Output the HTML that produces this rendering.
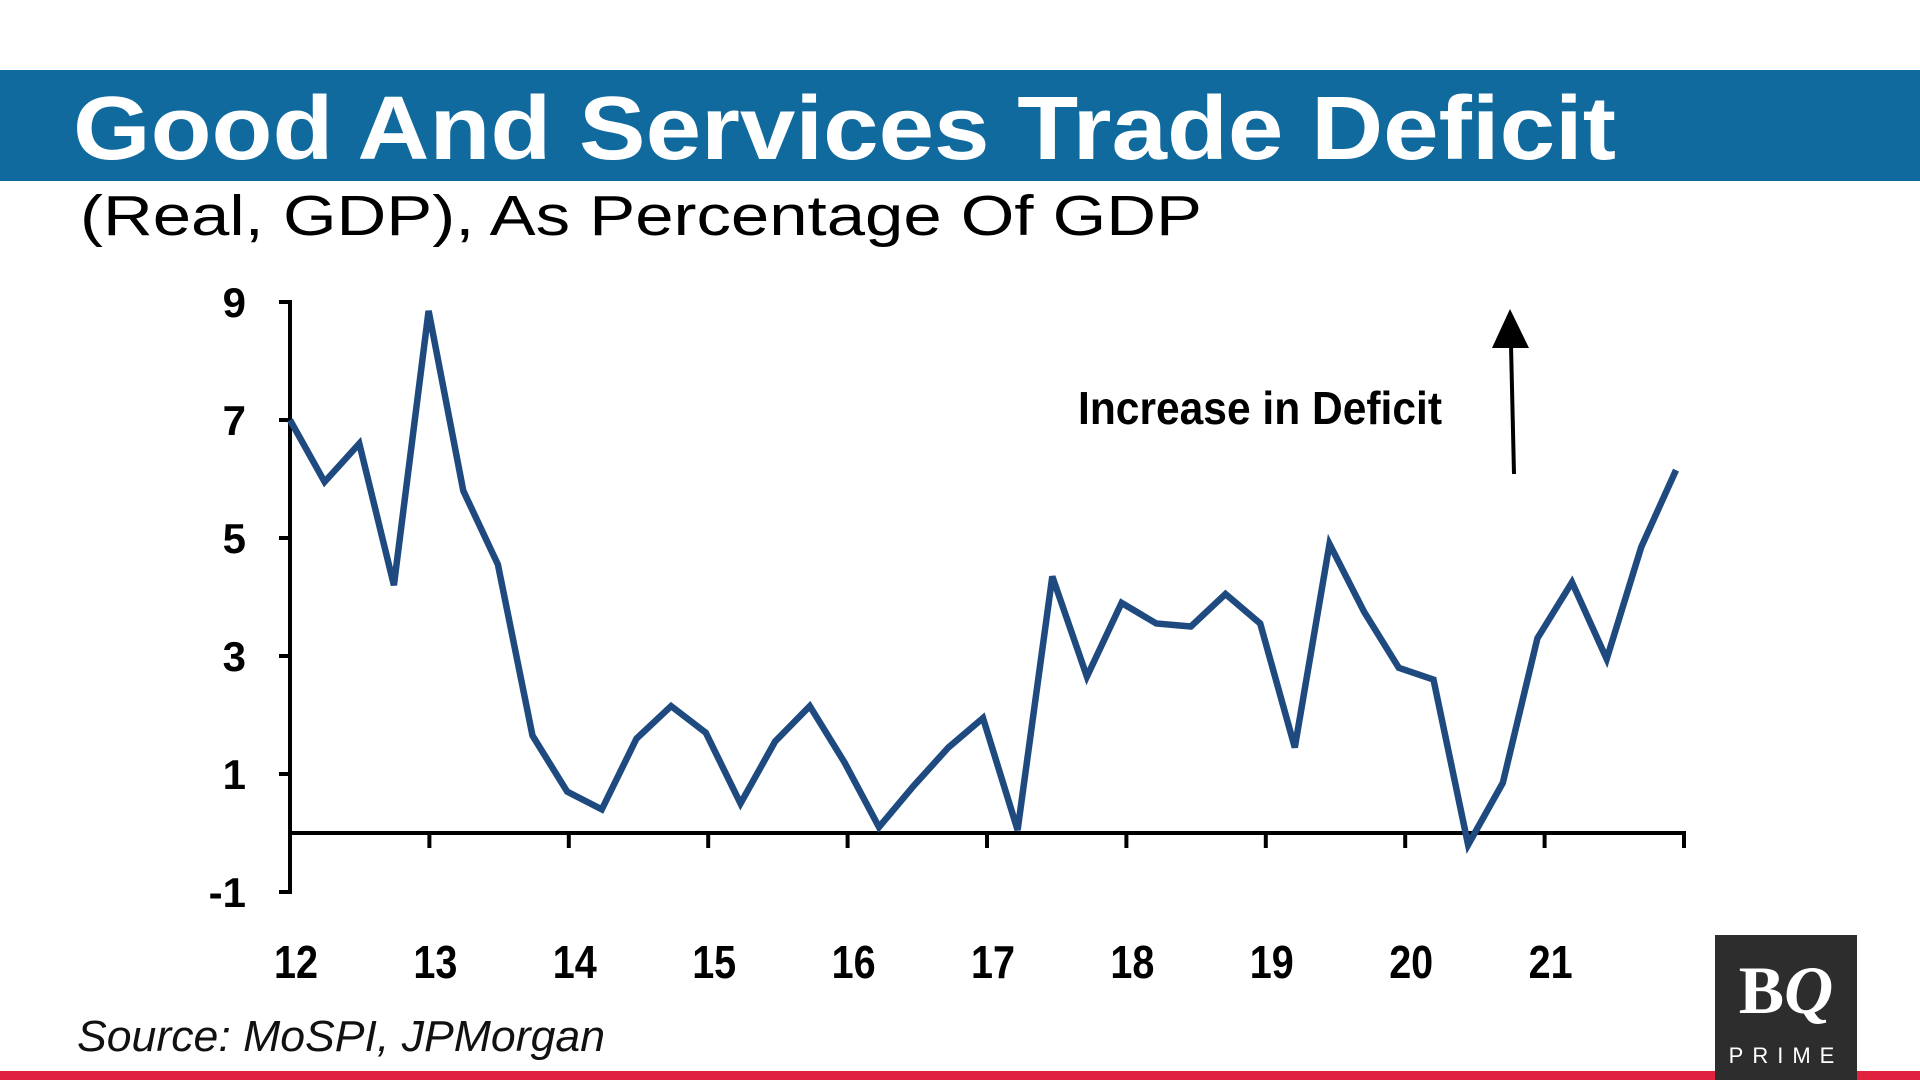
<!DOCTYPE html>
<html><head><meta charset="utf-8"><style>
html,body{margin:0;padding:0;background:#fff;width:1920px;height:1080px;overflow:hidden}
svg{display:block}
</style></head><body>
<svg width="1920" height="1080" viewBox="0 0 1920 1080" xmlns="http://www.w3.org/2000/svg">
<rect x="0" y="70" width="1920" height="111" fill="#106a9e"/>
<text x="73" y="159" font-family="Liberation Sans, sans-serif" font-weight="bold" font-size="90" fill="#fff" textLength="1543" lengthAdjust="spacingAndGlyphs">Good And Services Trade Deficit</text>
<text x="80" y="235" font-family="Liberation Sans, sans-serif" font-size="57" fill="#000" textLength="1122" lengthAdjust="spacingAndGlyphs">(Real, GDP), As Percentage Of GDP</text>
<g id="axes"></g>
<g id="series"></g>
<text x="1078" y="424" font-family="Liberation Sans, sans-serif" font-weight="bold" font-size="46" fill="#000" textLength="364" lengthAdjust="spacingAndGlyphs">Increase in Deficit</text>
<line x1="1514" y1="474" x2="1511" y2="345" stroke="#000" stroke-width="4"/>
<polygon points="1510,309 1492,348 1529,348" fill="#000"/>
<text x="77" y="1051" font-family="Liberation Sans, sans-serif" font-style="italic" font-size="44" fill="#111" textLength="528" lengthAdjust="spacingAndGlyphs">Source: MoSPI, JPMorgan</text>
<rect x="0" y="1071" width="1920" height="9" fill="#e0223e"/>
<g>
<rect x="1715" y="935" width="142" height="145" fill="#2d2d2d"/>
<text x="1786" y="1013" text-anchor="middle" font-family="Liberation Serif, serif" font-weight="bold" font-size="68" fill="#fff">B<tspan font-style="italic">Q</tspan></text>
<text x="1786" y="1063" text-anchor="middle" font-family="Liberation Sans, sans-serif" font-size="22" fill="#fff" letter-spacing="9">PRIME</text>
</g>
</svg>
<script>
const yTicks = [9, 7, 5, 3, 1, -1];
const xTickLabels = ["12","13","14","15","16","17","18","19","20","21"];
const deficit = [7.0,5.95,6.6,4.2,8.85,5.8,4.55,1.65,0.7,0.4,1.6,2.15,1.7,0.5,1.55,2.15,1.2,0.1,0.8,1.45,1.95,0.05,4.35,2.65,3.9,3.55,3.5,4.05,3.55,1.45,4.9,3.75,2.8,2.6,-0.2,0.85,3.3,4.25,2.95,4.85,6.15];

const NS = "http://www.w3.org/2000/svg";
const X0 = 290, YEAR = 139.4, QSTEP = 34.65, Y0 = 833, UNIT = 59;
const xq = i => X0 + i * QSTEP;
const yv = v => Y0 - v * UNIT;
const axes = document.getElementById('axes');
const series = document.getElementById('series');
function mk(tag, attrs, parent){const e=document.createElementNS(NS,tag);for(const k in attrs)e.setAttribute(k,attrs[k]);parent.appendChild(e);return e;}

let e = mk('line',{x1:X0,y1:yv(9)-2,x2:X0,y2:yv(-1)+2,stroke:'#000','stroke-width':4},axes);


e = mk('line',{x1:X0,y1:Y0,x2:X0+10*YEAR+2,y2:Y0,stroke:'#000','stroke-width':4},axes);



yTicks.forEach(v=>{
  const t = mk('line',{x1:X0-11,y1:yv(v),x2:X0,y2:yv(v),stroke:'#000','stroke-width':4},axes);
  
  
  const l = mk('text',{x:246,y:yv(v)+15,'text-anchor':'end','font-family':'Liberation Sans, sans-serif','font-weight':'bold','font-size':42,fill:'#000'},axes);
  l.textContent = String(v);
  
  
});
for(let k=1;k<=10;k++){
  const t = mk('line',{x1:X0+k*YEAR,y1:Y0,x2:X0+k*YEAR,y2:Y0+15,stroke:'#000','stroke-width':4},axes);
  
  
}
xTickLabels.forEach((s,k)=>{
  const l = mk('text',{x:X0+k*YEAR+6,y:978,'text-anchor':'middle','font-family':'Liberation Sans, sans-serif','font-weight':'bold','font-size':46,fill:'#000',textLength:44,lengthAdjust:'spacingAndGlyphs'},axes);
  l.textContent = s;
  
  
});
const pts = deficit.map((v,i)=>xq(i).toFixed(1)+','+yv(v).toFixed(1)).join(' ');
const pl = mk('polyline',{points:pts,fill:'none',stroke:'#1f4a80','stroke-width':6.5,'stroke-linejoin':'miter','stroke-miterlimit':4},series);


</script>
</body></html>
